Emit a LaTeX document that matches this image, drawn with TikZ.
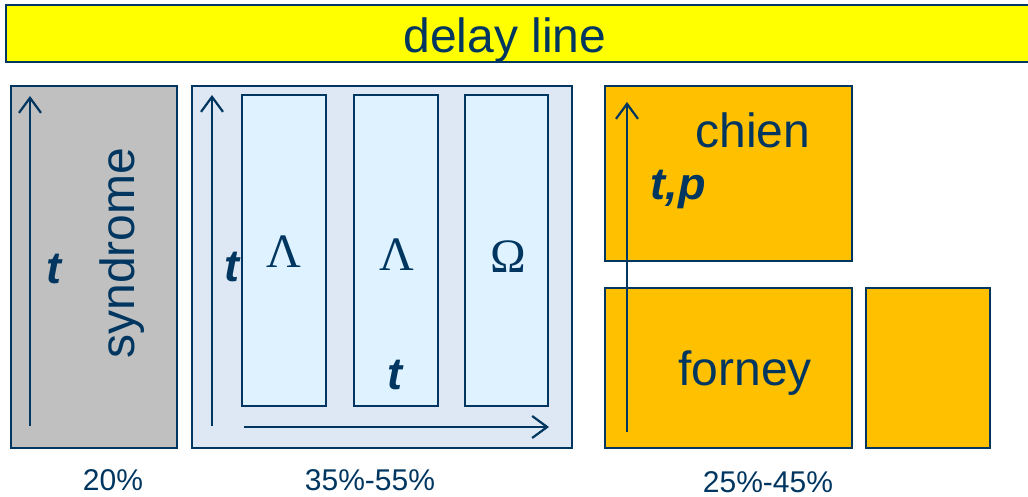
\documentclass[tikz,border=0pt]{standalone}
\usepackage{fontspec}
\setmainfont{Liberation Sans}
\newfontfamily\greekserif{Liberation Serif}
\usetikzlibrary{arrows.meta}
\definecolor{navy}{RGB}{0,54,96}
\definecolor{barfill}{RGB}{255,255,0}
\definecolor{grayfill}{RGB}{192,192,192}
\definecolor{panelfill}{RGB}{222,232,244}
\definecolor{cellfill}{RGB}{222,242,255}
\definecolor{orangefill}{RGB}{255,192,0}
\begin{document}
\begin{tikzpicture}[x=1pt,y=-1pt,
  blk/.style={draw=navy,line width=2pt,inner sep=0pt,outer sep=0pt},
  axis/.style={draw=navy,line width=2.2pt,-{Straight Barb[length=15pt,width=22pt,line width=2.2pt]}},
  big/.style={text=navy,font=\fontsize{48}{50}\selectfont,inner sep=0pt,anchor=base},
  pct/.style={text=navy,font=\fontsize{30}{32}\selectfont,inner sep=0pt,anchor=base},
  var/.style={text=navy,font=\fontsize{45}{47}\selectfont\bfseries\itshape,inner sep=0pt,anchor=base},
  greek/.style={text=navy,font=\fontsize{48}{50}\selectfont\greekserif,inner sep=0pt,anchor=base}]
\useasboundingbox (0,0) rectangle (1028,497);

% delay line bar (runs past the right edge)
\path[blk,fill=barfill] (6,5) rectangle (1040,62);
\node[big] (delay) at (505,53) {delay line};

% syndrome stage
\path[blk,fill=grayfill] (11,86) rectangle (177,448);
\coordinate (s0) at (30,426);
\coordinate (s1) at (30,96);
\draw[axis] (s0) -- (s1);
\node[var] (st) at (54,283) {t};
\node[big,rotate=90] (syn) at (134,253) {syndrome};
\node[pct] (p20) at (113,490) {20\%};

% key equation stage
\path[blk,fill=panelfill] (192,86) rectangle (572,448);
\path[blk,fill=cellfill] (242,95) rectangle (326,406);
\path[blk,fill=cellfill] (354,95) rectangle (438,406);
\path[blk,fill=cellfill] (465,95) rectangle (548,406);
\coordinate (k0) at (212,426);
\coordinate (k1) at (212,95);
\coordinate (h0) at (244,427);
\coordinate (h1) at (549,427);
\draw[axis] (k0) -- (k1);
\draw[axis] (h0) -- (h1);
\node[var] (kt) at (232,281) {t};
\node[var] (ht) at (395,389) {t};
\node[greek] (lam1) at (284,267) {Λ};
\node[greek] (lam2) at (397,270) {Λ};
\node[greek] (om) at (508,272) {Ω};
\node[pct] (p35) at (370,490) {35\%-55\%};

% chien / forney stage
\path[blk,fill=orangefill] (605,86) rectangle (852,261);
\path[blk,fill=orangefill] (605,288) rectangle (852,448);
\path[blk,fill=orangefill] (866,288) rectangle (990,448);
\coordinate (c0) at (627,432);
\coordinate (c1) at (627,102);
\draw[axis] (c0) -- (c1);
\node[big] (chien) at (753,148) {chien};
\node[var] (tp) at (678,200) {t,p};
\node[big] (forney) at (745,385) {forney};
\node[pct] (p25) at (768,492) {25\%-45\%};
\end{tikzpicture}
\end{document}
